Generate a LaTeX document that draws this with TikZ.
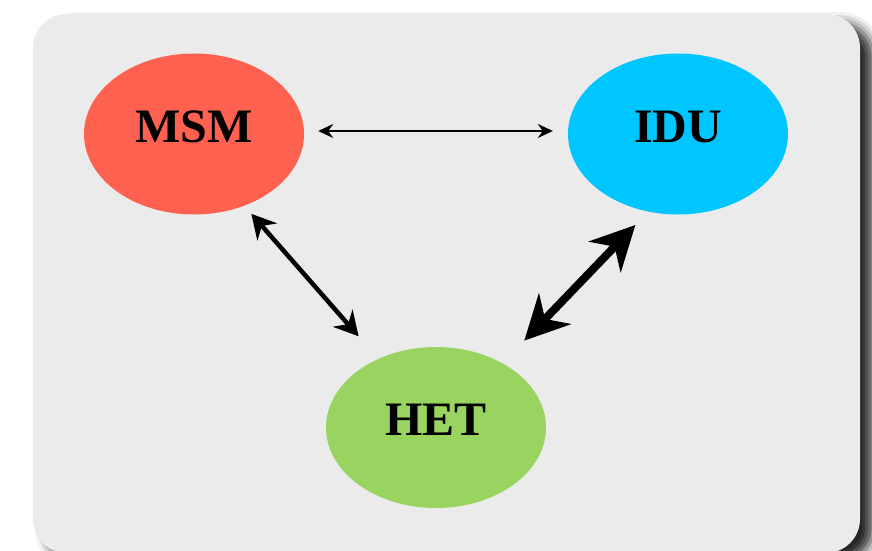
\documentclass[tikz,border=0pt]{standalone}
\usepackage{fontspec}
\setmainfont{Liberation Serif}
\usetikzlibrary{shapes.geometric,arrows.meta,shadows.blur}

\definecolor{panelgray}{HTML}{EBEBEB}
\definecolor{msmred}{HTML}{FF6150}
\definecolor{idublue}{HTML}{00C6FF}
\definecolor{hetgreen}{HTML}{98D45F}

\tikzset{
  group/.style={ellipse, draw=none, inner sep=0pt,
    minimum width=220pt, minimum height=161pt,
    font=\fontsize{48}{50}\selectfont\bfseries,
    text height=31pt, text depth=15pt},
  link/.style={line cap=butt, black},
  thinlink/.style={link, line width=2.2pt,
    {Stealth[length=15pt,width=14pt,inset=5pt]}-{Stealth[length=15pt,width=14pt,inset=5pt]}},
  midlink/.style={link, line width=4.5pt,
    {Stealth[length=24pt,width=26pt,inset=8pt]}-{Stealth[length=24pt,width=26pt,inset=8pt]}},
  boldlink/.style={link, line width=8pt,
    {Stealth[length=44pt,width=44pt,inset=14pt]}-{Stealth[length=44pt,width=44pt,inset=14pt]}}
}

\begin{document}
\begin{tikzpicture}[x=1pt,y=-1pt]
  \useasboundingbox (0,0) rectangle (872,551);

  % background panel with soft shadow
  \fill[panelgray, rounded corners=34pt,
        blur shadow={shadow xshift=13pt, shadow yshift=-9pt,
                     shadow blur radius=11pt, shadow opacity=85}]
    (33,14) rectangle (860,553);

  % the three groups
  \node[group, fill=msmred]   (msm) at (194,134) {MSM};
  \node[group, fill=idublue]  (idu) at (678,134) {IDU};
  \node[group, fill=hetgreen] (het) at (436,427.5) {HET};

  % links between the groups
  \draw[thinlink, shorten <=14pt, shorten >=15pt]
    ([yshift=3pt]msm.east) -- ([yshift=3pt]idu.west);
  \draw[midlink, shorten <=10.7pt, shorten >=29.9pt]
    (msm.305.4) -- (het.130.5);
  \draw[boldlink, shorten <=18.5pt, shorten >=31.3pt]
    (idu.249.5) -- (het.44.3);
\end{tikzpicture}
\end{document}
